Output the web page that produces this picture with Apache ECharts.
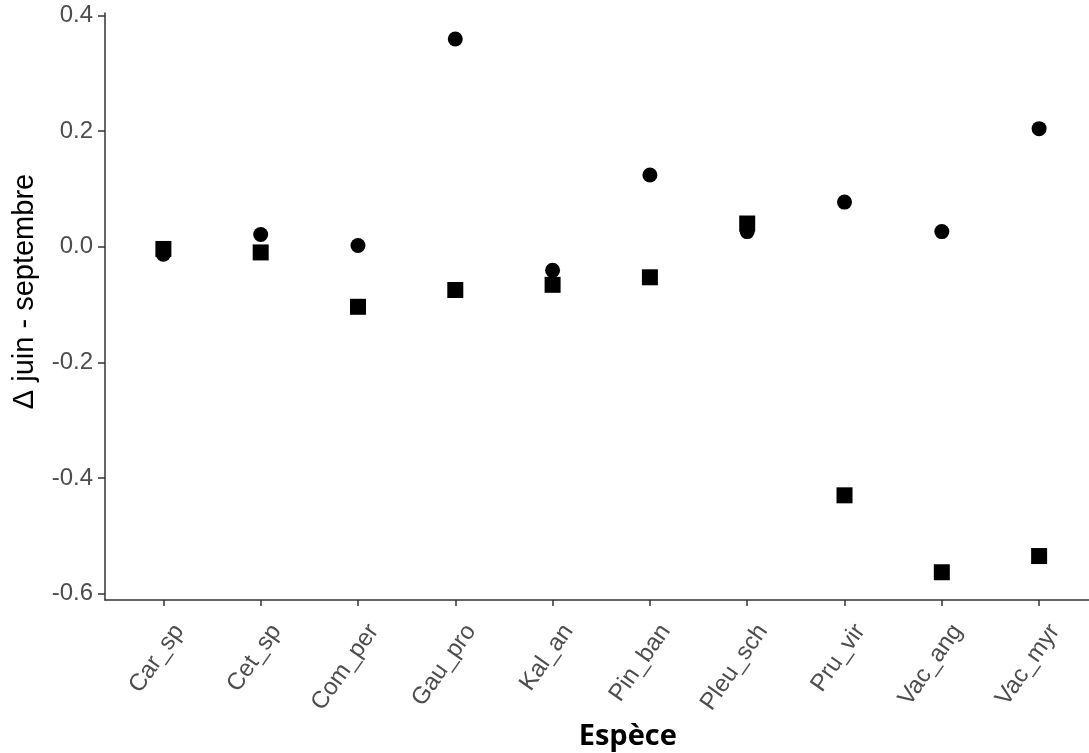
<!DOCTYPE html>
<html>
<head>
<meta charset="utf-8">
<script src="https://cdn.jsdelivr.net/npm/echarts@6/dist/echarts.min.js"></script>
<style>html,body{margin:0;padding:0;background:#fff;}#c{width:1089px;height:753px;}</style>
</head>
<body>
<div id="c"></div>
<script>
const categories = ['Car_sp','Cet_sp','Com_per','Gau_pro','Kal_an','Pin_ban','Pleu_sch','Pru_vir','Vac_ang','Vac_myr'];
const circleValues = [-0.013, 0.021, 0.002, 0.359, -0.041, 0.124, 0.026, 0.077, 0.026, 0.204];
const squareValues = [-0.004, -0.010, -0.104, -0.075, -0.066, -0.053, 0.040, -0.430, -0.563, -0.535];
const yTicks = [-0.6, -0.4, -0.2, 0.0, 0.2, 0.4];
const catPositions = categories.map((c, i) => i + 1);

const chart = echarts.init(document.getElementById('c'), null, {renderer: 'canvas'});
const axisColor = '#333333';
const labelColor = '#4d4d4d';
chart.setOption({
  animation: false,
  backgroundColor: '#ffffff',
  grid: {left: 105, top: 13, width: 992.5, height: 587, containLabel: false, outerBoundsMode: 'none'},
  xAxis: {
    type: 'value', min: 0.4, max: 10.6,
    name: 'Espèce', nameLocation: 'middle', nameGap: 122,
    nameTextStyle: {fontFamily: 'Open Sans', fontWeight: 'bold', fontSize: 29, color: '#000', padding: [0,0,0,53]},
    axisLine: {show: true, onZero: false, lineStyle: {color: axisColor, width: 1.5}},
    axisTick: {show: true, customValues: catPositions, length: 6, lineStyle: {color: axisColor, width: 1.5}},
    axisLabel: {show: true, customValues: catPositions, rotate: 55, margin: 16, verticalAlign: 'top',
      padding: [7, 0, 0, 0],
      fontFamily: 'Liberation Sans', fontSize: 24, color: labelColor,
      formatter: v => categories[Math.round(v) - 1] || ''},
    splitLine: {show: false}
  },
  yAxis: {
    type: 'value', min: -0.611, max: 0.404,
    name: 'Δ juin - septembre', nameLocation: 'middle', nameGap: 66, nameRotate: 90,
    nameTextStyle: {fontFamily: 'Liberation Sans', fontSize: 29, color: '#000', padding: [0,0,0,30]},
    axisLine: {show: true, onZero: false, lineStyle: {color: axisColor, width: 1.5}},
    axisTick: {show: true, customValues: yTicks, length: 7, lineStyle: {color: axisColor, width: 1.5}},
    axisLabel: {show: true, customValues: yTicks, margin: 12,
      fontFamily: 'Liberation Sans', fontSize: 24, color: labelColor,
      formatter: v => v.toFixed(1)},
    splitLine: {show: false}
  },
  series: [
    {type: 'scatter', symbol: 'circle', symbolSize: 15, itemStyle: {color: '#000', opacity: 1},
     data: circleValues.map((v, i) => [catPositions[i], v])},
    {type: 'scatter', symbol: 'rect', symbolSize: 16, itemStyle: {color: '#000', opacity: 1},
     data: squareValues.map((v, i) => [catPositions[i], v])}
  ]
});
</script>
</body>
</html>
